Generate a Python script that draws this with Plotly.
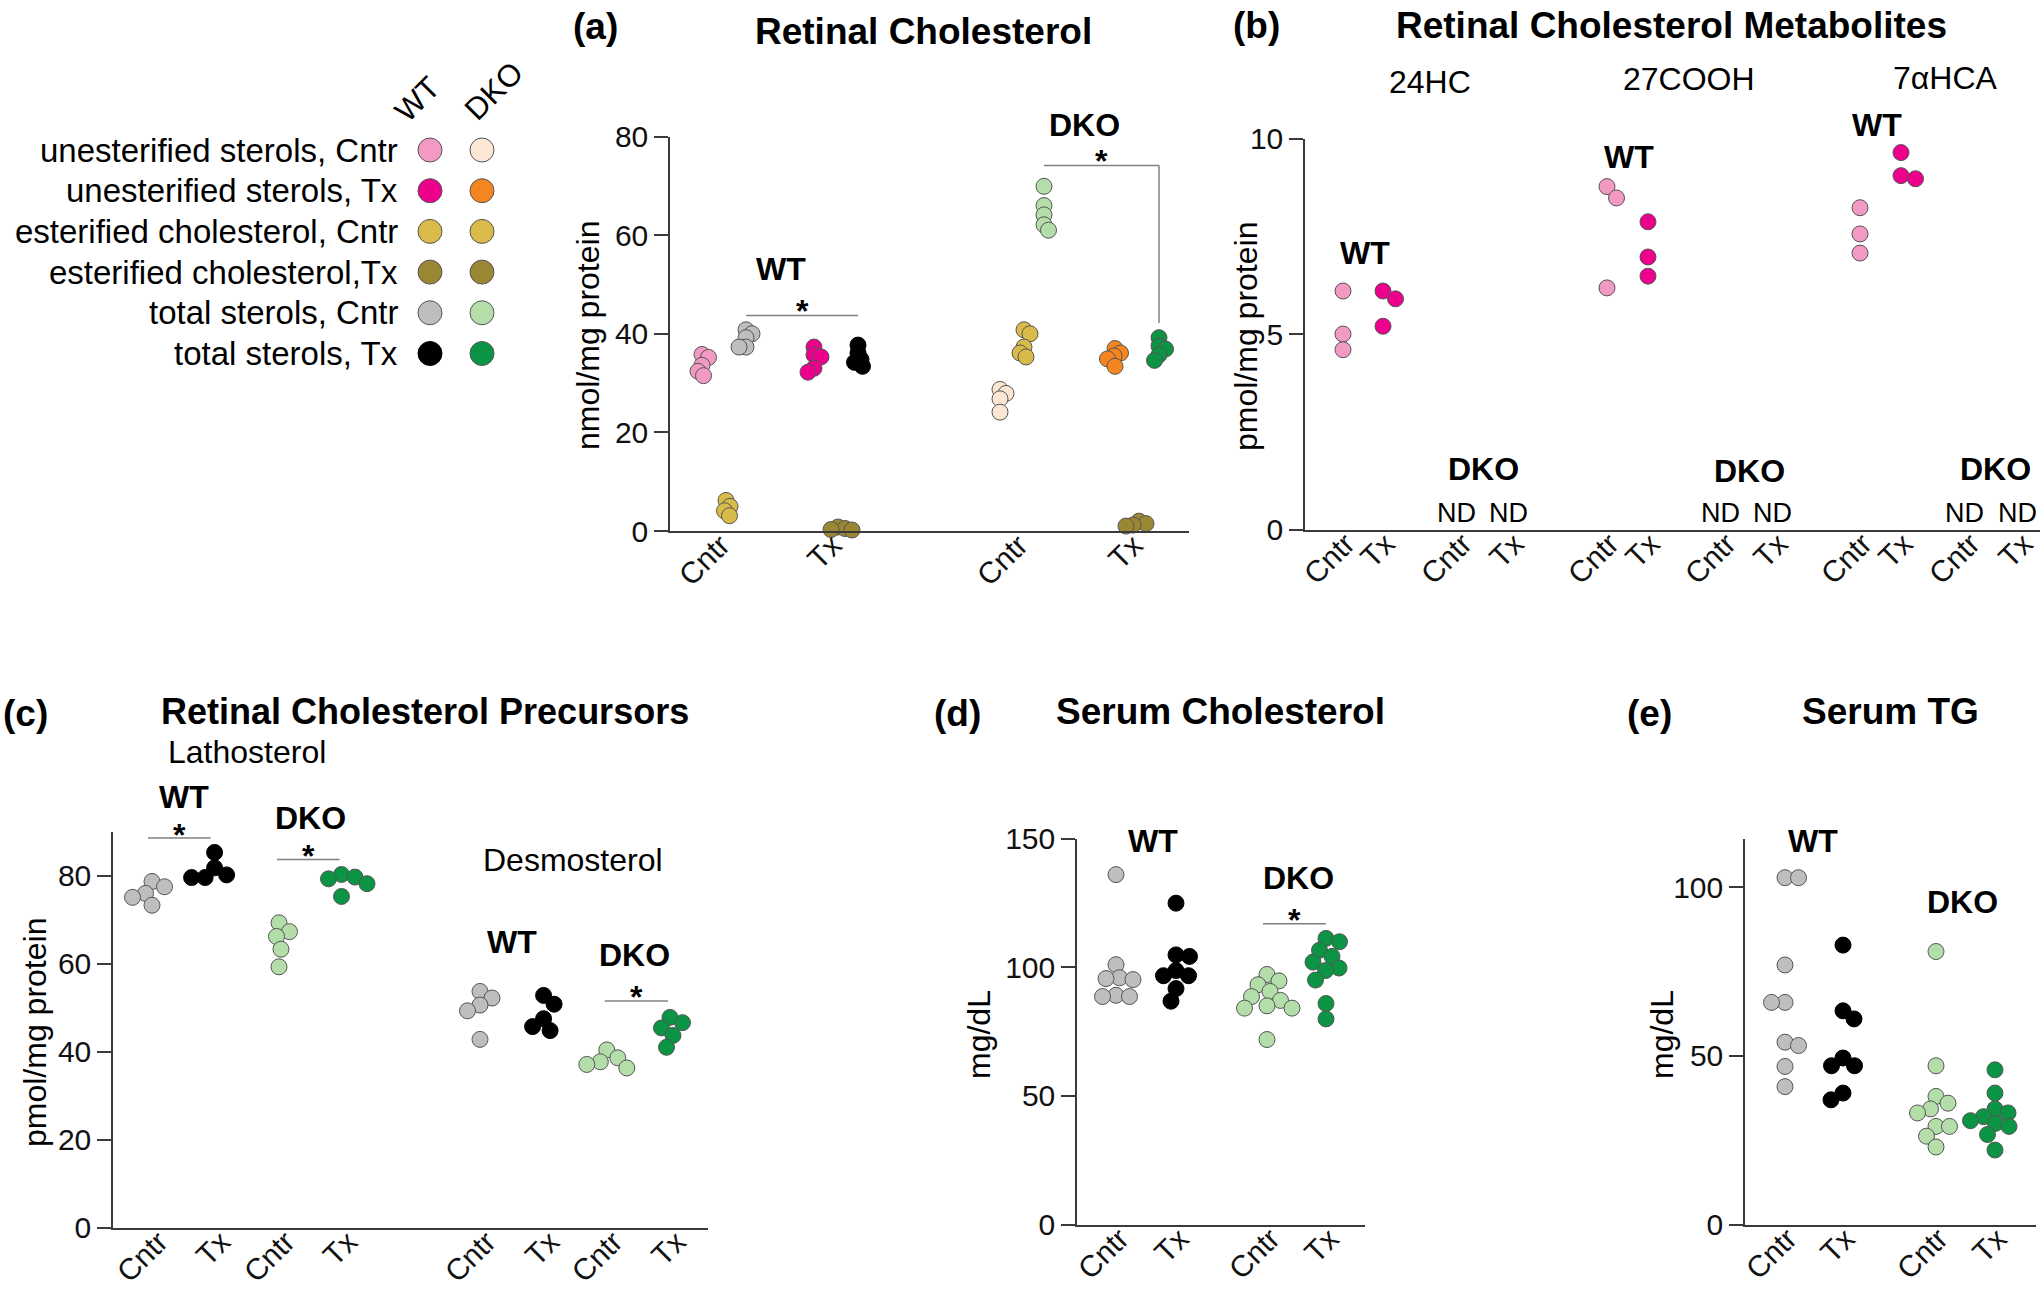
import plotly.graph_objects as go

# ---------------- DATA ----------------
groups = ["WT Cntr", "WT Tx", "DKO Cntr", "DKO Tx"]
tick_text = ["Cntr", "Tx", "Cntr", "Tx"]

# (a) Retinal cholesterol, nmol/mg protein  (order: WT Cntr, WT Tx, DKO Cntr, DKO Tx)
a_unesterified = [[35.8, 35.2, 33.6, 32.4, 31.5],
                  [37.3, 35.7, 35.3, 33.0, 32.2],
                  [28.7, 27.9, 26.8, 24.1],
                  [37.0, 36.1, 35.5, 34.9, 33.4]]
a_esterified = [[6.2, 5.0, 4.1, 3.1],
                [0.8, 0.5, 0.3, 0.2],
                [40.8, 40.0, 37.3, 36.1, 35.3],
                [2.0, 1.5, 1.2, 1.0]]
a_total = [[40.8, 40.0, 39.2, 37.3, 37.3],
           [37.7, 36.1, 34.8, 34.2, 33.4],
           [69.9, 66.0, 64.1, 62.1, 61.0],
           [39.2, 37.5, 36.9, 35.7, 34.6]]

# (b) Retinal cholesterol metabolites, pmol/mg protein (WT only; DKO not detected)
metabolites = ["24HC", "27COOH", "7αHCA"]
b_wt_cntr = [[6.1, 5.0, 4.6], [8.77, 8.48, 6.18], [8.23, 7.56, 7.07]]
b_wt_tx = [[6.1, 5.9, 5.2], [7.87, 6.97, 6.48], [9.64, 9.05, 8.97]]

# (c) Retinal cholesterol precursors, pmol/mg protein
precursors = ["Lathosterol", "Desmosterol"]
c_lathosterol = [[78.7, 77.5, 76.0, 75.1, 73.3],
                 [85.3, 81.8, 80.2, 79.6, 79.6],
                 [69.3, 67.3, 66.2, 63.3, 59.3],
                 [80.3, 79.7, 79.3, 78.2, 75.3]]
c_desmosterol = [[53.7, 52.2, 50.6, 49.3, 42.8],
                 [52.8, 50.8, 47.5, 45.7, 44.8],
                 [40.4, 38.6, 37.7, 37.1, 36.3],
                 [47.8, 46.6, 45.4, 43.7, 41.0]]

# (d) Serum cholesterol, mg/dL
d_serum_chol = [[136, 101, 95.9, 95.6, 95.2, 89.1, 88.6, 88.6],
                [124.9, 104.8, 104.2, 98.7, 96.7, 96.7, 91.7, 86.8],
                [97.2, 94.7, 93.2, 90.6, 88.6, 87.1, 85.0, 84.1, 84.1, 71.9],
                [111.2, 109.9, 106.6, 104.2, 102.0, 99.7, 98.7, 95.0, 85.9, 79.9]]

# (e) Serum TG, mg/dL
e_serum_tg = [[102.9, 102.9, 77.0, 65.9, 65.9, 54.1, 53.1, 46.9, 40.9],
              [82.9, 63.4, 61.0, 49.4, 47.1, 47.1, 39.0, 37.0],
              [81.0, 47.1, 38.0, 36.0, 34.3, 33.1, 29.1, 29.1, 26.2, 23.0],
              [45.9, 39.0, 34.3, 33.1, 32.0, 30.8, 30.0, 29.1, 26.7, 22.1]]

legend_labels = ["unesterified sterols, Cntr", "unesterified sterols, Tx",
                 "esterified cholesterol, Cntr", "esterified cholesterol,Tx",
                 "total sterols, Cntr", "total sterols, Tx"]

# ---------------- STYLE ----------------
W, H = 2044, 1291
FONT = "Liberation Sans, Arial, Helvetica, sans-serif"
AX = "#3a3a3a"
EDGE = "#555555"
C_UN = ["#F29AC3", "#EC008C", "#FBE7D3", "#F5861F"]
C_ES = ["#D8BB4A", "#9B8733", "#D8BB4A", "#9B8733"]
C_TOT = ["#BEBEBE", "#000000", "#B3DEA9", "#0B9444"]
LEG_WT = [C_UN[0], C_UN[1], C_ES[0], C_ES[1], C_TOT[0], C_TOT[1]]
LEG_DKO = [C_UN[2], C_UN[3], C_ES[2], C_ES[3], C_TOT[2], C_TOT[3]]
MS = 16
XTICK_FS = 30
YTICK_FS = 30
TITLE_FS = 37
GRP_FS = 32
SUB_FS = 32
YT_FS = 32


def fx(x):
    return x / W


def fy(y):
    return 1 - y / H


def swarm(vals, xc, ppu, mind, step=0.5):
    order = sorted(range(len(vals)), key=lambda i: -vals[i])
    placed = []
    xs = [0.0] * len(vals)
    for i in order:
        yp = vals[i] * ppu
        k = 0
        while True:
            if k == 0:
                cands = [0.0]
            else:
                bal = sum(p[0] for p in placed)
                cands = [-k * step, k * step] if bal > 0 else [k * step, -k * step]
            ok = None
            for c in cands:
                if all((c - qx) ** 2 + (yp - qy) ** 2 >= mind ** 2 for qx, qy in placed):
                    ok = c
                    break
            if ok is not None:
                break
            k += 1
        placed.append((ok, yp))
        xs[i] = xc + ok
    return xs


fig = go.Figure()
layout = dict(width=W, height=H, margin=dict(l=0, r=0, t=0, b=0, pad=0), autosize=False,
              paper_bgcolor="white", plot_bgcolor="rgba(0,0,0,0)", showlegend=False,
              font=dict(family=FONT, color="#111"))
annotations = []
shapes = []

# group centres (points) and label shift (tick labels) per panel
panels = {
    1: dict(x0=670, x1=1189, ybot=531, ytop=136.5, ymax=80, yt=[0, 20, 40, 60, 80],
            tv=[726, 838, 1024, 1139], tt=tick_text, ldx=-5),
    2: dict(x0=1305, x1=2040, ybot=529.6, ytop=138.5, ymax=10, yt=[0, 5, 10],
            tv=[1343, 1383, 1460, 1512, 1607, 1648, 1724, 1776, 1860, 1901, 1968, 2021],
            tt=tick_text * 3, ldx=3),
    3: dict(x0=113, x1=708, ybot=1227.6, ytop=831.8, ymax=90, yt=[0, 20, 40, 60, 80],
            tv=[152, 214.6, 279, 341.5, 480, 543.6, 606.8, 670], tt=tick_text * 2, ldx=7),
    4: dict(x0=1077, x1=1365, ybot=1224.5, ytop=838.6, ymax=150, yt=[0, 50, 100, 150],
            tv=[1116, 1176, 1267, 1326], tt=tick_text, ldx=4),
    5: dict(x0=1745, x1=2036, ybot=1224.5, ytop=838.6, ymax=114.5, yt=[0, 50, 100],
            tv=[1785, 1843, 1936, 1995], tt=tick_text, ldx=3),
}

for n, p in panels.items():
    xk = "xaxis" if n == 1 else f"xaxis{n}"
    yk = "yaxis" if n == 1 else f"yaxis{n}"
    layout[xk] = dict(domain=[fx(p["x0"]), fx(p["x1"])], range=[p["x0"], p["x1"]],
                      anchor=f"y{'' if n == 1 else n}", showline=True, linecolor=AX, linewidth=1.5,
                      ticks="", tickmode="array", tickvals=[v + p["ldx"] for v in p["tv"]],
                      ticktext=p["tt"], tickangle=-45, ticklabelstandoff=-17,
                      tickfont=dict(size=XTICK_FS, family=FONT, color="#111"), showgrid=False,
                      zeroline=False, fixedrange=True, automargin=False)
    layout[yk] = dict(domain=[fy(p["ybot"]), fy(p["ytop"])], range=[0, p["ymax"]],
                      anchor=f"x{'' if n == 1 else n}", showline=True, linecolor=AX, linewidth=1.5,
                      ticks="outside", ticklen=14, tickwidth=1.5, tickcolor=AX, tickmode="array",
                      tickvals=p["yt"], tickfont=dict(size=YTICK_FS, family=FONT, color="#111"),
                      showgrid=False, zeroline=False, fixedrange=True, automargin=False)
    p["ppu"] = (p["ybot"] - p["ytop"]) / p["ymax"]


def add_pts(n, vals, xc, color, mind=13.5):
    p = panels[n]
    xs = swarm(vals, xc, p["ppu"], mind)
    edge = "#000000" if color == "#000000" else EDGE
    fig.add_trace(go.Scatter(x=xs, y=vals, mode="markers", cliponaxis=False, hoverinfo="skip",
                             marker=dict(size=MS, color=color, line=dict(color=edge, width=1)),
                             xaxis="x" if n == 1 else f"x{n}", yaxis="y" if n == 1 else f"y{n}"))


def ann(text, x, y, size, bold=False, angle=0, xanchor="center", yanchor="middle"):
    annotations.append(dict(text=f"<b>{text}</b>" if bold else text, x=fx(x), y=fy(y),
                            xref="paper", yref="paper", showarrow=False, textangle=angle,
                            xanchor=xanchor, yanchor=yanchor,
                            font=dict(size=size, family=FONT, color="#000")))


def bracket(n, xa, xb, yv, ydrop=None):
    xr = "x" if n == 1 else f"x{n}"
    yr = "y" if n == 1 else f"y{n}"
    shapes.append(dict(type="line", xref=xr, yref=yr, x0=xa, x1=xb, y0=yv, y1=yv,
                       line=dict(color="#808080", width=1.5)))
    if ydrop is not None:
        shapes.append(dict(type="line", xref=xr, yref=yr, x0=xb, x1=xb, y0=yv, y1=ydrop,
                           line=dict(color="#808080", width=1.5)))


# ---- (a)
col_off = [-24, 0, 20]
for g in range(4):
    xc = panels[1]["tv"][g]
    add_pts(1, a_unesterified[g], xc + col_off[0], C_UN[g], mind=7)
    add_pts(1, a_esterified[g], xc + col_off[1], C_ES[g], mind=7)
    add_pts(1, a_total[g], xc + col_off[2], C_TOT[g], mind=7)
tv = panels[1]["tv"]
bracket(1, tv[0] + col_off[2], tv[1] + col_off[2], 43.7)
bracket(1, tv[2] + col_off[2], tv[3] + col_off[2], 74.1, 42.2)
ann("(a)", 595, 27, TITLE_FS, True)
ann("Retinal Cholesterol", 923, 31, TITLE_FS, True)
ann("WT", 781, 269, GRP_FS, True)
ann("*", (tv[0] + tv[1]) / 2 + col_off[2], 311, GRP_FS, True)
ann("DKO", 1084, 125, GRP_FS, True)
ann("*", (tv[2] + tv[3]) / 2 + col_off[2], 161, GRP_FS, True)
ann("nmol/mg protein", 588, 336, YT_FS, angle=-90)

# ---- (b)
tvb = panels[2]["tv"]
for m in range(3):
    add_pts(2, b_wt_cntr[m], tvb[4 * m], C_UN[0], mind=14.5)
    add_pts(2, b_wt_tx[m], tvb[4 * m + 1], C_UN[1], mind=14.5)
    ann("ND", tvb[4 * m + 2] - 4, 513, 27)
    ann("ND", tvb[4 * m + 3] - 4, 513, 27)
ann("(b)", 1256, 26, TITLE_FS, True)
ann("Retinal Cholesterol Metabolites", 1671, 25, TITLE_FS, True)
for t, (x, y) in zip(metabolites, [(1430, 82), (1689, 79), (1945, 78)]):
    ann(t, x, y, SUB_FS)
for x, y in [(1365, 253), (1629, 157), (1877, 125)]:
    ann("WT", x, y, GRP_FS, True)
for x, y in [(1483, 469), (1749, 471), (1995, 469)]:
    ann("DKO", x, y, GRP_FS, True)
ann("pmol/mg protein", 1246, 337, YT_FS, angle=-90)

# ---- (c)
tvc = panels[3]["tv"]
cols4 = [C_TOT[0], C_TOT[1], C_TOT[2], C_TOT[3]]
for g in range(4):
    add_pts(3, c_lathosterol[g], tvc[g], cols4[g])
    add_pts(3, c_desmosterol[g], tvc[4 + g], cols4[g])
bracket(3, tvc[0] - 4, tvc[1] - 4, 88.6)
bracket(3, tvc[2] - 2, tvc[3] - 2, 83.7)
bracket(3, tvc[6] - 2, tvc[7] - 2, 51.5)
ann("(c)", 25, 713, TITLE_FS, True)
ann("Retinal Cholesterol Precursors", 425, 711, 36, True)
ann(precursors[0], 247, 752, SUB_FS)
ann(precursors[1], 573, 860, SUB_FS)
ann("WT", 184, 797, GRP_FS, True)
ann("*", (tvc[0] + tvc[1]) / 2 - 4, 835, GRP_FS, True)
ann("DKO", 310, 818, GRP_FS, True)
ann("*", (tvc[2] + tvc[3]) / 2 - 2, 856, GRP_FS, True)
ann("WT", 512, 942, GRP_FS, True)
ann("DKO", 634, 955, GRP_FS, True)
ann("*", (tvc[6] + tvc[7]) / 2 - 2, 997, GRP_FS, True)
ann("pmol/mg protein", 35, 1033, YT_FS, angle=-90)

# ---- (d)
tvd = panels[4]["tv"]
for g in range(4):
    add_pts(4, d_serum_chol[g], tvd[g], cols4[g])
bracket(4, tvd[2] - 4, tvd[3], 116.9)
ann("(d)", 957, 713, TITLE_FS, True)
ann("Serum Cholesterol", 1220, 711, TITLE_FS, True)
ann("WT", 1153, 841, GRP_FS, True)
ann("DKO", 1298, 878, GRP_FS, True)
ann("*", (tvd[2] + tvd[3]) / 2 - 2, 920, GRP_FS, True)
ann("mg/dL", 979, 1035, YT_FS, angle=-90)

# ---- (e)
tve = panels[5]["tv"]
for g in range(4):
    add_pts(5, e_serum_tg[g], tve[g], cols4[g])
ann("(e)", 1649, 713, TITLE_FS, True)
ann("Serum TG", 1890, 711, TITLE_FS, True)
ann("WT", 1813, 841, GRP_FS, True)
ann("DKO", 1962, 902, GRP_FS, True)
ann("mg/dL", 1662, 1035, YT_FS, angle=-90)

# ---- key (legend)
LEG_COLS = [430, 482]
LEG_Y0, LEG_DY = 150, 40.7
layout["xaxis6"] = dict(domain=[0, 1], range=[0, W], visible=False, fixedrange=True,
                        anchor="y6", automargin=False)
layout["yaxis6"] = dict(domain=[0, 1], range=[H, 0], visible=False, fixedrange=True,
                        anchor="x6", automargin=False)
rows = [LEG_Y0 + i * LEG_DY for i in range(len(legend_labels))]
for ci, cols in enumerate([LEG_WT, LEG_DKO]):
    fig.add_trace(go.Scatter(x=[LEG_COLS[ci]] * len(rows), y=rows, mode="markers",
                             hoverinfo="skip", xaxis="x6", yaxis="y6", cliponaxis=False,
                             marker=dict(size=24, color=cols,
                                         line=dict(color=["#000" if c == "#000000" else EDGE for c in cols],
                                                   width=1))))
for lab, y in zip(legend_labels, rows):
    ann(lab, 400, y, 33, xanchor="right")
ann("WT", LEG_COLS[0] - 13, 99, 31, angle=-45)
ann("DKO", LEG_COLS[1] + 11, 91, 31, angle=-45)

layout["annotations"] = annotations
layout["shapes"] = shapes
fig.update_layout(**layout)
fig.write_html("out.html", config={"displayModeBar": False},
               post_script="document.body.style.margin='0';document.body.style.overflow='hidden';")
